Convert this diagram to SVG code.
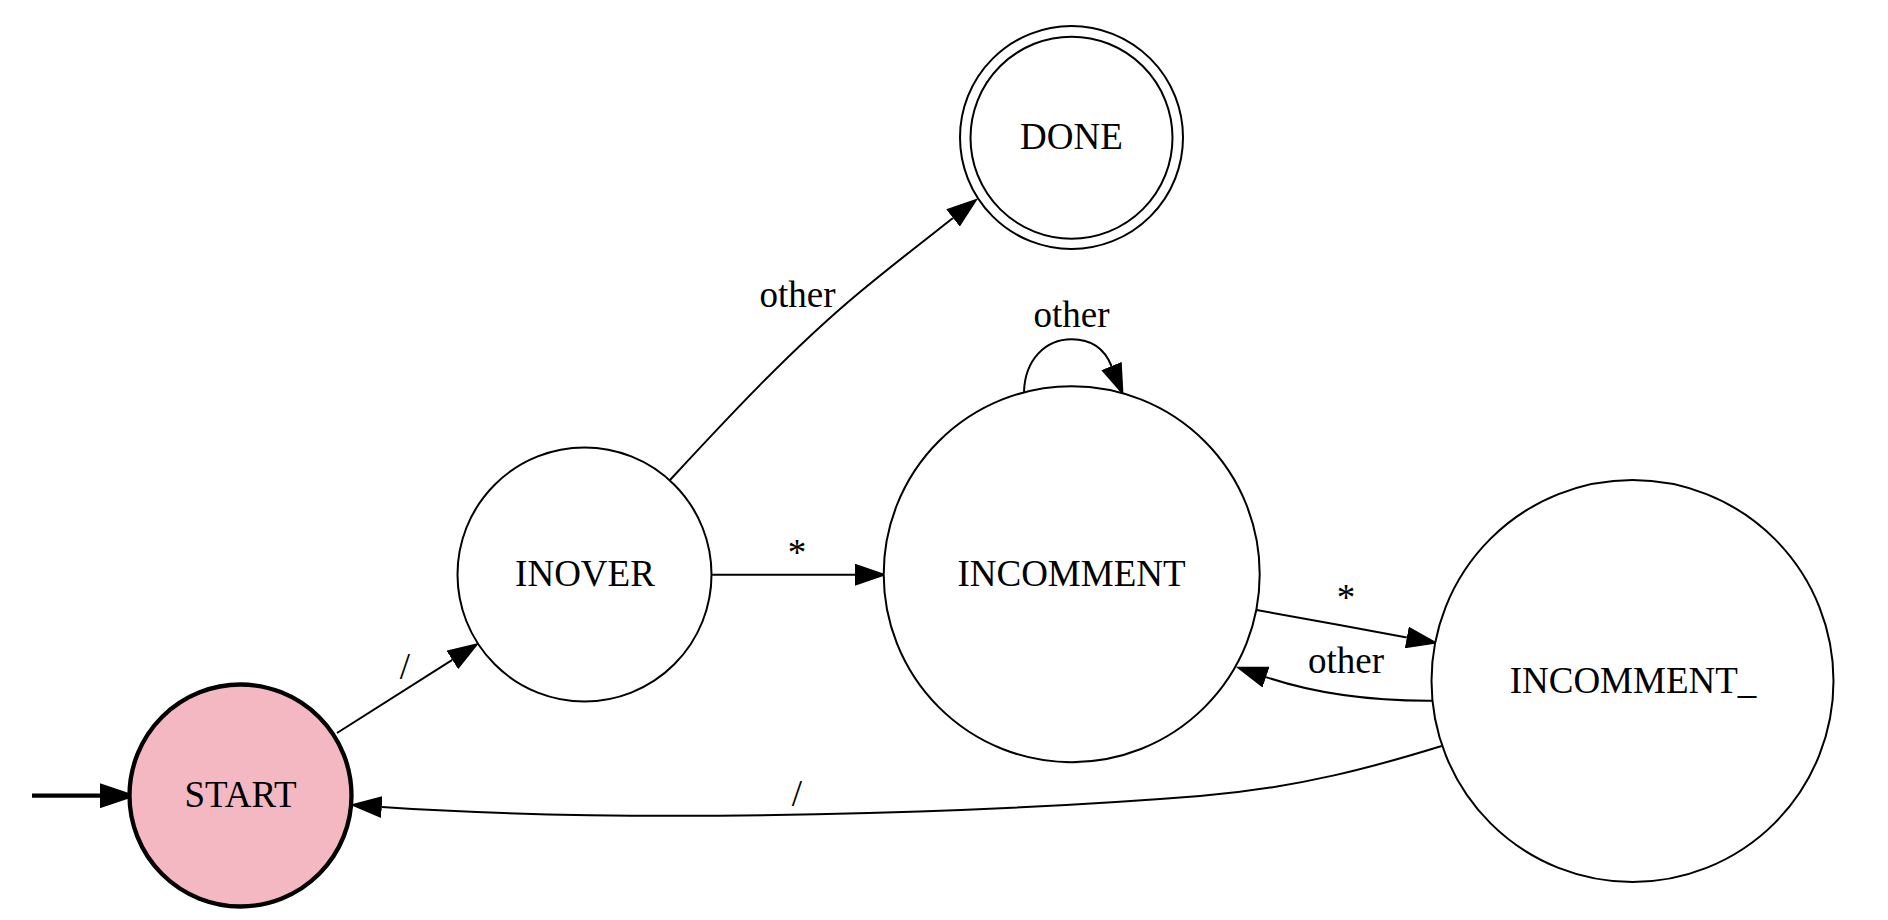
<svg xmlns="http://www.w3.org/2000/svg" width="1888" height="920" viewBox="0 0 1888 920">
<style>
.node{fill:#ffffff;stroke:#000;stroke-width:2}
.start{fill:#f4b8c2;stroke:#000;stroke-width:4.3}
.lbl{font-family:"Liberation Serif","Times New Roman",serif;font-size:37px;fill:#000;text-anchor:middle}
.edge{fill:none;stroke:#000;stroke-width:2}
.init{fill:none;stroke:#000;stroke-width:4.3}
</style>
<defs>
<marker id="arr" markerUnits="userSpaceOnUse" viewBox="0 0 32 22" markerWidth="32" markerHeight="22" refX="0" refY="11" orient="auto">
<path d="M0,0 L32,11 L0,22 z" fill="#000"/>
</marker>
<marker id="arrBig" markerUnits="userSpaceOnUse" viewBox="0 0 37 25" markerWidth="37" markerHeight="25" refX="0" refY="12.5" orient="auto">
<path d="M0,0 L37,12.5 L0,25 z" fill="#000"/>
</marker>
</defs>
<rect width="1888" height="920" fill="#ffffff"/>

<g id="edges">
<path class="init" d="M32,795.7 L100,795.7" marker-end="url(#arrBig)"/>
<path class="edge" d="M337,733 L452.3,659.9" marker-end="url(#arr)"/>
<text class="lbl" x="405" y="678.5">/</text>
<path class="edge" d="M711.7,574.7 L855,574.7" marker-end="url(#arr)"/>
<text class="lbl" x="797" y="565">*</text>
<path class="edge" d="M670,480 C720,426 790,350 860,292 C895,263 925,240 953,218" marker-end="url(#arr)"/>
<text class="lbl" x="797.5" y="306.7">other</text>
<path class="edge" d="M1024,391.7 C1025,360 1045,339.3 1071.7,339.3 C1093,339.3 1105,350 1111.5,366" marker-end="url(#arr)"/>
<text class="lbl" x="1071.5" y="327.3">other</text>
<path class="edge" d="M1256.5,610 C1300,617.5 1360,628.8 1406.8,637.5" marker-end="url(#arr)"/>
<text class="lbl" x="1346" y="610">*</text>
<path class="edge" d="M1432.3,700.7 C1385,701 1325,697 1266,677.1" marker-end="url(#arr)"/>
<text class="lbl" x="1346" y="673.3">other</text>
<path class="edge" d="M1441.7,746 C1380,765 1300,788 1200,796 C1000,812 650,825 381.8,807" marker-end="url(#arr)"/>
<text class="lbl" x="797" y="806">/</text>
</g>

<g id="START">
<circle class="start" cx="240.5" cy="795.5" r="111"/>
<text class="lbl" x="240.5" y="807">START</text>
</g>
<g id="INOVER">
<circle class="node" cx="584.5" cy="574.5" r="127"/>
<text class="lbl" x="585" y="586">INOVER</text>
</g>
<g id="INCOMMENT">
<circle class="node" cx="1071.7" cy="574.2" r="188"/>
<text class="lbl" x="1071.5" y="586">INCOMMENT</text>
</g>
<g id="INCOMMENT_">
<circle class="node" cx="1632.5" cy="681" r="201"/>
<text class="lbl" x="1633" y="692.7">INCOMMENT_</text>
</g>
<g id="DONE">
<circle class="node" cx="1071.5" cy="137.5" r="111.5"/>
<circle class="node" cx="1071.5" cy="137.7" r="101"/>
<text class="lbl" x="1071.5" y="148.5">DONE</text>
</g>
</svg>
